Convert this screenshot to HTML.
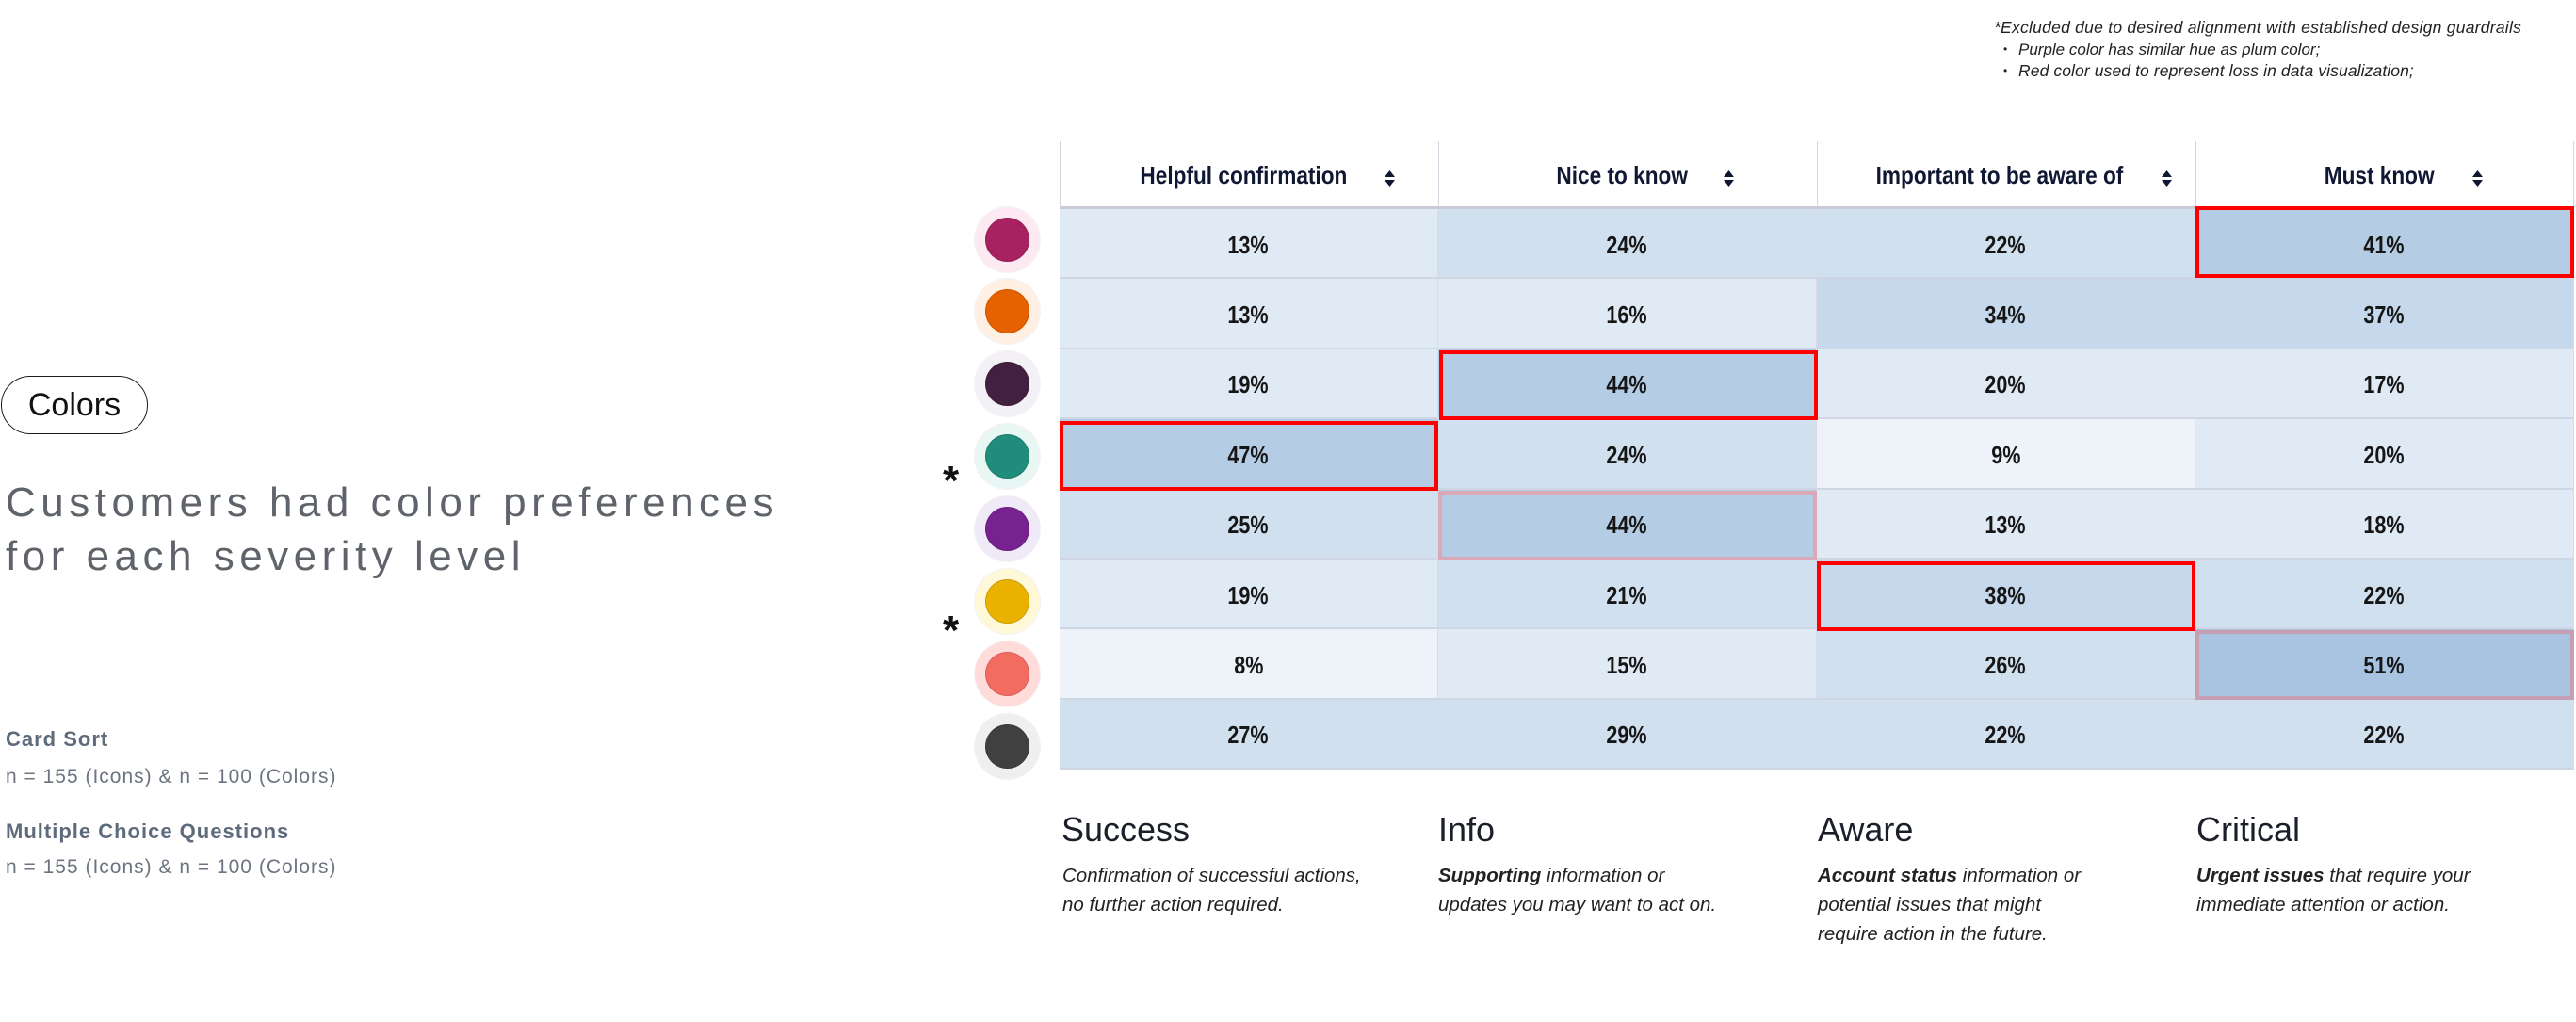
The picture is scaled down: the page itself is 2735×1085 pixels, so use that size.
<!DOCTYPE html>
<html><head><meta charset="utf-8">
<style>
*{margin:0;padding:0;box-sizing:border-box}
html,body{width:2735px;height:1085px;background:#fff;overflow:hidden;position:relative;font-family:"Liberation Sans",sans-serif}
.a{position:absolute;white-space:nowrap}
.fn{font-style:italic;font-size:17.5px;line-height:23px;color:#222}
.bul{position:absolute;font-size:12px;line-height:23px;color:#222}
.ht{position:absolute;top:150px;height:72px;width:600px;display:flex;align-items:center;justify-content:center;font-weight:700;font-size:26px;color:#0f1733;white-space:nowrap}
.ht span{display:inline-block;transform:scaleX(0.87)}
.ic{position:absolute;top:180.5px}
.vl{position:absolute;top:150px;width:1px;height:70px;background:#d3d5e0}
.c{position:absolute;width:402px;height:74.4px;display:flex;align-items:center;justify-content:center;padding-top:4px;font-size:26px;font-weight:700;color:#161616;border-bottom:2px solid #d0d5e4;border-right:1px solid #d8dcea;white-space:nowrap}
.c span{display:inline-block;transform:scaleX(0.83)}
.hl{position:absolute;width:402px;height:74.4px;border:4px solid #ff0000}
.dot{position:absolute;width:69px;height:69px;border-radius:50%;box-shadow:0 0 0 1px rgba(0,0,0,0.05)}
.dot i{position:absolute;left:11px;top:11px;width:47px;height:47px;border-radius:50%;box-shadow:inset 0 0 0 1px rgba(0,0,0,0.12)}
.ast{position:absolute;left:1001px;font-size:44px;line-height:44px;font-weight:700;color:#111}
.lt{position:absolute;top:862.5px;font-size:36px;line-height:36px;color:#1b1f2a;white-space:nowrap}
.ld{position:absolute;top:914.4px;font-size:20.5px;line-height:31px;font-style:italic;color:#222;white-space:nowrap}
.L0{background:#eef3f9}.L1{background:#e0eaf5}.L2{background:#d1e0ef}.L3{background:#c5d8ec}.L4{background:#b4cde4}.L5{background:#a8c4e1}
</style></head><body>

<!-- footnote -->
<div class="a fn" style="left:2117px;top:17.5px;letter-spacing:0.25px">*Excluded due to desired alignment with established design guardrails</div>
<div class="bul" style="left:2127px;top:40.5px">•</div>
<div class="a fn" style="left:2143px;top:40.5px;font-size:17px">Purple color has similar hue as plum color;</div>
<div class="bul" style="left:2127px;top:63.5px">•</div>
<div class="a fn" style="left:2143px;top:63.5px;letter-spacing:0.1px">Red color used to represent loss in data visualization;</div>

<!-- left side -->
<div style="position:absolute;left:1px;top:399px;width:156px;height:62px;border:1.5px solid #1a1a1a;border-radius:31px;display:flex;align-items:center;justify-content:center;font-size:34px;color:#111">Colors</div>
<div class="a" style="left:6px;top:505.3px;font-size:44px;line-height:57px;letter-spacing:5.5px;color:#5f646b">Customers had color preferences<br>for each severity level</div>
<div class="a" style="left:6px;top:774.4px;font-size:22px;line-height:22px;font-weight:700;letter-spacing:1px;color:#5d6b7b">Card Sort</div>
<div class="a" style="left:6px;top:813.5px;font-size:21px;line-height:21px;letter-spacing:1px;color:#6b7480">n = 155 (Icons) &amp; n = 100 (Colors)</div>
<div class="a" style="left:6px;top:872.4px;font-size:22px;line-height:22px;font-weight:700;letter-spacing:1px;color:#5d6b7b">Multiple Choice Questions</div>
<div class="a" style="left:6px;top:910.2px;font-size:21px;line-height:21px;letter-spacing:1px;color:#6b7480">n = 155 (Icons) &amp; n = 100 (Colors)</div>

<!-- header -->
<div class="vl" style="left:1125px"></div>
<div class="vl" style="left:1527px"></div>
<div class="vl" style="left:1929px"></div>
<div class="vl" style="left:2331px"></div>
<div class="vl" style="left:2732px"></div>
<div class="ht" style="left:1020px"><span>Helpful confirmation</span></div>
<div class="ht" style="left:1422px"><span>Nice to know</span></div>
<div class="ht" style="left:1823px"><span>Important to be aware of</span></div>
<div class="ht" style="left:2226px"><span>Must know</span></div>
<svg class="ic" style="left:1469.5px" width="11" height="17" viewBox="0 0 11 17"><path d="M0 7L5.5 0L11 7Z M0 10L11 10L5.5 17Z" fill="#0f1733"/></svg>
<svg class="ic" style="left:1829.5px" width="11" height="17" viewBox="0 0 11 17"><path d="M0 7L5.5 0L11 7Z M0 10L11 10L5.5 17Z" fill="#0f1733"/></svg>
<svg class="ic" style="left:2294.5px" width="11" height="17" viewBox="0 0 11 17"><path d="M0 7L5.5 0L11 7Z M0 10L11 10L5.5 17Z" fill="#0f1733"/></svg>
<svg class="ic" style="left:2624.5px" width="11" height="17" viewBox="0 0 11 17"><path d="M0 7L5.5 0L11 7Z M0 10L11 10L5.5 17Z" fill="#0f1733"/></svg>
<div style="position:absolute;left:1125px;top:219px;width:1608px;height:3px;background:#c9cbd7"></div>

<!-- body cells -->
<div class="c L1" style="left:1125px;top:222px"><span>13%</span></div>
<div class="c L2" style="left:1527px;top:222px"><span>24%</span></div>
<div class="c L2" style="left:1929px;top:222px"><span>22%</span></div>
<div class="c L4" style="left:2331px;top:222px"><span>41%</span></div>

<div class="c L1" style="left:1125px;top:296.4px"><span>13%</span></div>
<div class="c L1" style="left:1527px;top:296.4px"><span>16%</span></div>
<div class="c L3" style="left:1929px;top:296.4px"><span>34%</span></div>
<div class="c L3" style="left:2331px;top:296.4px"><span>37%</span></div>

<div class="c L1" style="left:1125px;top:370.8px"><span>19%</span></div>
<div class="c L4" style="left:1527px;top:370.8px"><span>44%</span></div>
<div class="c L1" style="left:1929px;top:370.8px"><span>20%</span></div>
<div class="c L1" style="left:2331px;top:370.8px"><span>17%</span></div>

<div class="c L4" style="left:1125px;top:445.2px"><span>47%</span></div>
<div class="c L2" style="left:1527px;top:445.2px"><span>24%</span></div>
<div class="c L0" style="left:1929px;top:445.2px"><span>9%</span></div>
<div class="c L1" style="left:2331px;top:445.2px"><span>20%</span></div>

<div class="c L2" style="left:1125px;top:519.6px"><span>25%</span></div>
<div class="c L4" style="left:1527px;top:519.6px"><span>44%</span></div>
<div class="c L1" style="left:1929px;top:519.6px"><span>13%</span></div>
<div class="c L1" style="left:2331px;top:519.6px"><span>18%</span></div>

<div class="c L1" style="left:1125px;top:594px"><span>19%</span></div>
<div class="c L2" style="left:1527px;top:594px"><span>21%</span></div>
<div class="c L3" style="left:1929px;top:594px"><span>38%</span></div>
<div class="c L2" style="left:2331px;top:594px"><span>22%</span></div>

<div class="c L0" style="left:1125px;top:668.4px"><span>8%</span></div>
<div class="c L1" style="left:1527px;top:668.4px"><span>15%</span></div>
<div class="c L2" style="left:1929px;top:668.4px"><span>26%</span></div>
<div class="c L5" style="left:2331px;top:668.4px"><span>51%</span></div>

<div class="c L2" style="left:1125px;top:742.8px"><span>27%</span></div>
<div class="c L2" style="left:1527px;top:742.8px"><span>29%</span></div>
<div class="c L2" style="left:1929px;top:742.8px"><span>22%</span></div>
<div class="c L2" style="left:2331px;top:742.8px"><span>22%</span></div>

<!-- highlight boxes -->
<div class="hl" style="left:2331px;top:219px;height:76px"></div>
<div class="hl" style="left:1528px;top:372px"></div>
<div class="hl" style="left:1125px;top:447px"></div>
<div class="hl" style="left:1929px;top:596px"></div>
<div class="hl" style="left:1527px;top:521px;border-color:#d9a9b7"></div>
<div class="hl" style="left:2331px;top:669px;border-color:#c69fb5"></div>

<!-- color dots -->
<div class="dot" style="left:1034.5px;top:219.5px;background:#fce9f1"><i style="background:#a82160"></i></div>
<div class="dot" style="left:1034.5px;top:296.4px;background:#fff0e3"><i style="background:#e66100"></i></div>
<div class="dot" style="left:1034.5px;top:373.3px;background:#f3f1f6"><i style="background:#42203f"></i></div>
<div class="dot" style="left:1034.5px;top:450.2px;background:#e8f7f3"><i style="background:#208c7b"></i></div>
<div class="dot" style="left:1034.5px;top:527.1px;background:#efe9f8"><i style="background:#772290"></i></div>
<div class="dot" style="left:1034.5px;top:604px;background:#fff8d8"><i style="background:#eab200"></i></div>
<div class="dot" style="left:1034.5px;top:680.9px;background:#ffdcd9"><i style="background:#f46b62"></i></div>
<div class="dot" style="left:1034.5px;top:757.8px;background:#efefef"><i style="background:#404040"></i></div>

<div class="ast" style="top:489px">*</div>
<div class="ast" style="top:648px">*</div>

<!-- legend -->
<div class="lt" style="left:1127px">Success</div>
<div class="lt" style="left:1527px">Info</div>
<div class="lt" style="left:1930px">Aware</div>
<div class="lt" style="left:2332px">Critical</div>

<div class="ld" style="left:1128px">Confirmation of successful actions,<br>no further action required.</div>
<div class="ld" style="left:1527px"><b>Supporting</b> information or<br>updates you may want to act on.</div>
<div class="ld" style="left:1930px"><b>Account status</b> information or<br>potential issues that might<br>require action in the future.</div>
<div class="ld" style="left:2332px"><b>Urgent issues</b> that require your<br>immediate attention or action.</div>

</body></html>
